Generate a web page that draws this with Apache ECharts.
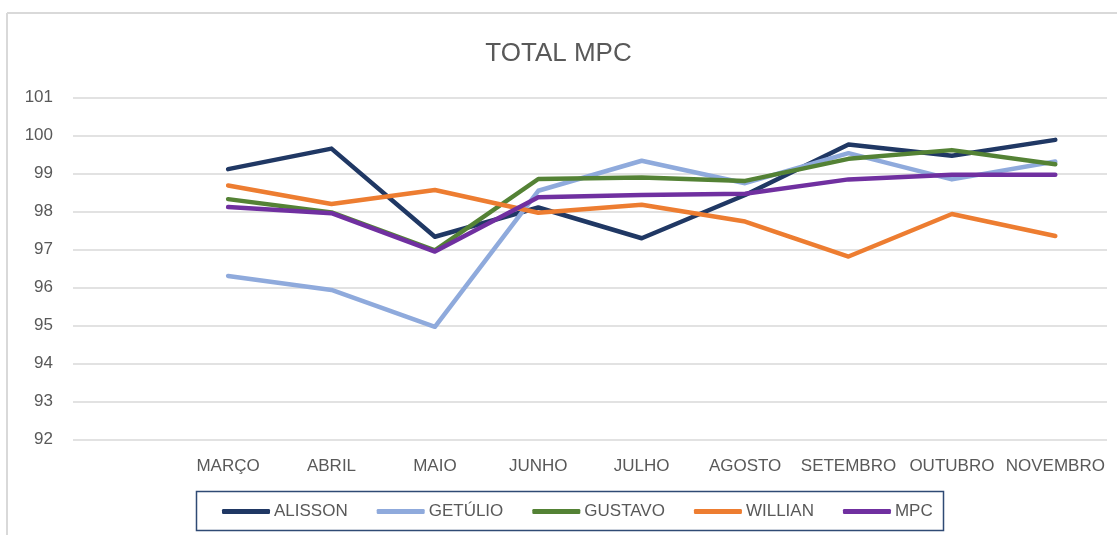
<!DOCTYPE html>
<html>
<head>
<meta charset="utf-8">
<script src="https://cdn.jsdelivr.net/npm/echarts@6/dist/echarts.min.js"></script>
<style>
html, body { margin: 0; padding: 0; background: #fff; }
#chart { width: 1117px; height: 535px; }
</style>
</head>
<body>
<div id="chart"></div>
<script>
// meses (a primeira categoria fica vazia, como no grafico original)
var meses = ["MARÇO", "ABRIL", "MAIO", "JUNHO", "JULHO", "AGOSTO", "SETEMBRO", "OUTUBRO", "NOVEMBRO"];

var alisson = [99.11, 99.65, 97.33, 98.10, 97.29, 98.43, 99.76, 99.46, 99.88];
var getulio = [96.30, 95.93, 94.96, 98.54, 99.33, 98.74, 99.53, 98.84, 99.31];
var gustavo = [98.32, 97.97, 96.97, 98.85, 98.89, 98.80, 99.38, 99.61, 99.24];
var willian = [98.68, 98.19, 98.56, 97.96, 98.17, 97.73, 96.81, 97.93, 97.35];
var mpc     = [98.11, 97.95, 96.94, 98.37, 98.43, 98.46, 98.84, 98.96, 98.96];

var nomes = ["ALISSON", "GETÚLIO", "GUSTAVO", "WILLIAN", "MPC"];
var cores = ["#203864", "#8FAADC", "#548235", "#ED7D31", "#7030A0"];
var yTicks = [92, 101, 1]; // min, max, intervalo

var fonte = "Liberation Sans";
var myChart = echarts.init(document.getElementById('chart'));

function serie(nome, valores, cor) {
	return {
		name: nome,
		type: 'line',
		data: [null].concat(valores),
		symbol: 'none',
		lineStyle: { width: 4.5, color: cor, cap: 'round', join: 'round' },
		itemStyle: { color: cor }
	};
}

var option = {
	backgroundColor: '#FFFFFF',
	animation: false,
	color: cores,
	title: {
		text: 'TOTAL MPC',
		left: 'center',
		top: 36,
		textStyle: { color: '#595959', fontSize: 26, fontWeight: 'normal', fontFamily: fonte }
	},
	grid: { left: 73, right: 10, top: 97.3, bottom: 95.7, containLabel: false },
	xAxis: {
		type: 'category',
		boundaryGap: true,
		data: [''].concat(meses),
		axisLine: { show: false },
		axisTick: { show: false },
		axisLabel: { interval: 0, color: '#595959', fontSize: 17, fontFamily: fonte, margin: 19 }
	},
	yAxis: {
		type: 'value',
		min: yTicks[0],
		max: yTicks[1],
		interval: yTicks[2],
		axisLine: { show: false },
		axisTick: { show: false },
		axisLabel: { color: '#595959', fontSize: 17, fontFamily: fonte, margin: 20 },
		splitLine: { lineStyle: { color: '#d9d9d9', width: 1.5 } }
	},
	legend: {
		left: 222,
		top: 503,
		icon: 'roundRect',
		itemWidth: 48,
		itemHeight: 5,
		itemGap: 29,
		padding: 0,
		data: nomes,
		textStyle: { color: '#595959', fontSize: 17, fontFamily: fonte, padding: [0, 0, 0, -1] }
	},
	graphic: [
		{ type: 'line', shape: { x1: 7, y1: 13, x2: 1117, y2: 13 }, style: { stroke: '#d9d9d9', lineWidth: 2 } },
		{ type: 'line', shape: { x1: 7, y1: 13, x2: 7, y2: 535 }, style: { stroke: '#d9d9d9', lineWidth: 2 } },
		{ type: 'rect', shape: { x: 196.5, y: 491.5, width: 747, height: 39 }, style: { fill: 'none', stroke: '#2F4A74', lineWidth: 1.5 } }
	],
	series: [
		serie(nomes[0], alisson, cores[0]),
		serie(nomes[1], getulio, cores[1]),
		serie(nomes[2], gustavo, cores[2]),
		serie(nomes[3], willian, cores[3]),
		serie(nomes[4], mpc, cores[4])
	]
};

myChart.setOption(option);
</script>
</body>
</html>
